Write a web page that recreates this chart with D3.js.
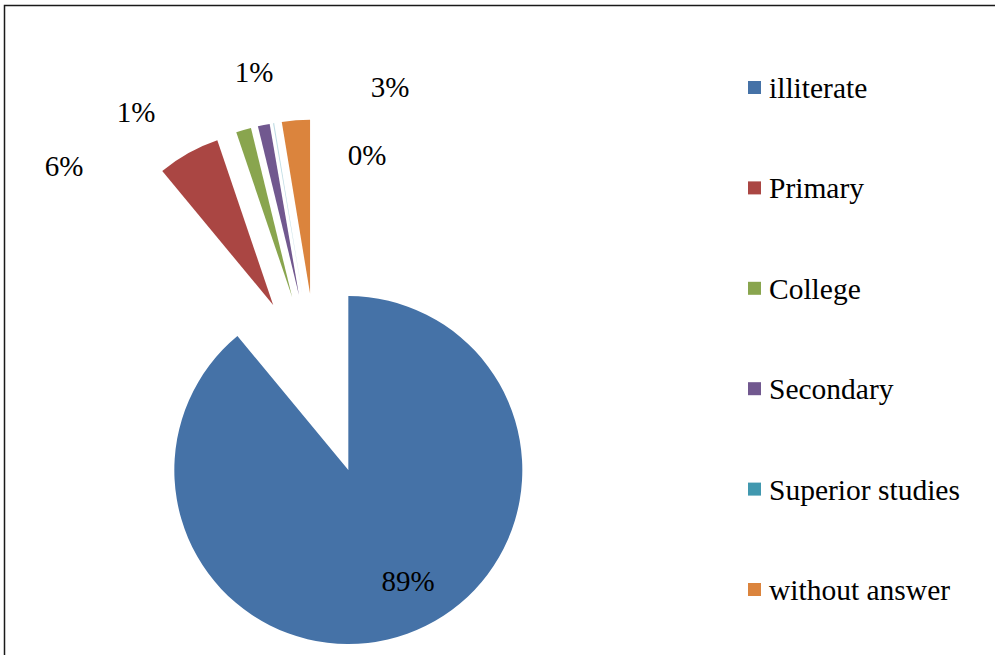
<!DOCTYPE html>
<html>
<head>
<meta charset="utf-8">
<script src="https://cdn.jsdelivr.net/npm/d3@7"></script>
<style>
  html, body { margin: 0; padding: 0; background: #fff; }
  svg { display: block; }
</style>
</head>
<body>
<svg id="chart" width="995" height="655"></svg>
<script>
// Education level of respondents (share of answers, %)
const categories = ["illiterate", "Primary", "College", "Secondary", "Superior studies", "without answer"];
const shares = [89.0, 5.8, 1.4, 1.1, 0.1, 2.6];
const colors = ["#4572A7", "#AA4643", "#89A54E", "#71588F", "#4198AF", "#DB843D"];

// Layout
const W = 995, H = 655;
const FONT = "'Liberation Serif', 'Times New Roman', Times, 'DejaVu Serif', serif";
const cx = 317.5, cy = 384.5;   // pie centre before exploding
const radius = 174;
const explode = 91;              // every slice is pulled out along its bisector
// label anchors (x, baseline) for each slice's percentage
const labelAnchors = [[408, 591], [64, 176], [136, 122], [254, 82], [367, 165], [390, 97]];

const svg = d3.select("#chart");

// Chart frame (top and left edges are visible)
svg.append("rect")
  .attr("x", 4.5).attr("y", 5.5)
  .attr("width", W + 20).attr("height", H + 20)
  .attr("fill", "none")
  .attr("stroke", "#1a1a1a")
  .attr("stroke-width", 1.5);

const data = categories.map((c, i) => ({ name: c, value: shares[i], color: colors[i] }));
const total = d3.sum(shares);
const pct = d3.format(".0%");

const pie = d3.pie().sort(null).value(d => d.value).startAngle(0).endAngle(2 * Math.PI);
const arc = d3.arc().innerRadius(0).outerRadius(radius);
const arcs = pie(data);

const g = svg.append("g").attr("transform", `translate(${cx},${cy})`);

g.selectAll("path.slice")
  .data(arcs)
  .join("path")
  .attr("class", "slice")
  .attr("d", arc)
  .attr("fill", d => d.data.color)
  .attr("fill-opacity", d => d.data.value < 0.5 ? 0.35 : 1)
  .attr("transform", d => {
    const mid = (d.startAngle + d.endAngle) / 2;
    return `translate(${Math.sin(mid) * explode},${-Math.cos(mid) * explode})`;
  });

// Percentage labels
svg.selectAll("text.pct")
  .data(arcs)
  .join("text")
  .attr("class", "pct")
  .attr("x", (d, i) => labelAnchors[i][0])
  .attr("y", (d, i) => labelAnchors[i][1])
  .attr("text-anchor", "middle")
  .attr("font-family", FONT)
  .attr("font-size", 29)
  .attr("fill", "#000")
  .text(d => pct(d.data.value / total));

// Legend
const legendY = d3.scalePoint().domain(categories).range([88, 590]);
const legend = svg.append("g");
const items = legend.selectAll("g")
  .data(data)
  .join("g")
  .attr("transform", d => `translate(748,${legendY(d.name)})`);
items.append("rect")
  .attr("x", 0).attr("y", -7)
  .attr("width", 13).attr("height", 13)
  .attr("fill", d => d.color);
items.append("text")
  .attr("x", 21).attr("y", 10)
  .attr("font-family", FONT)
  .attr("font-size", 29.5)
  .attr("fill", "#000")
  .text(d => d.name);
</script>
</body>
</html>
